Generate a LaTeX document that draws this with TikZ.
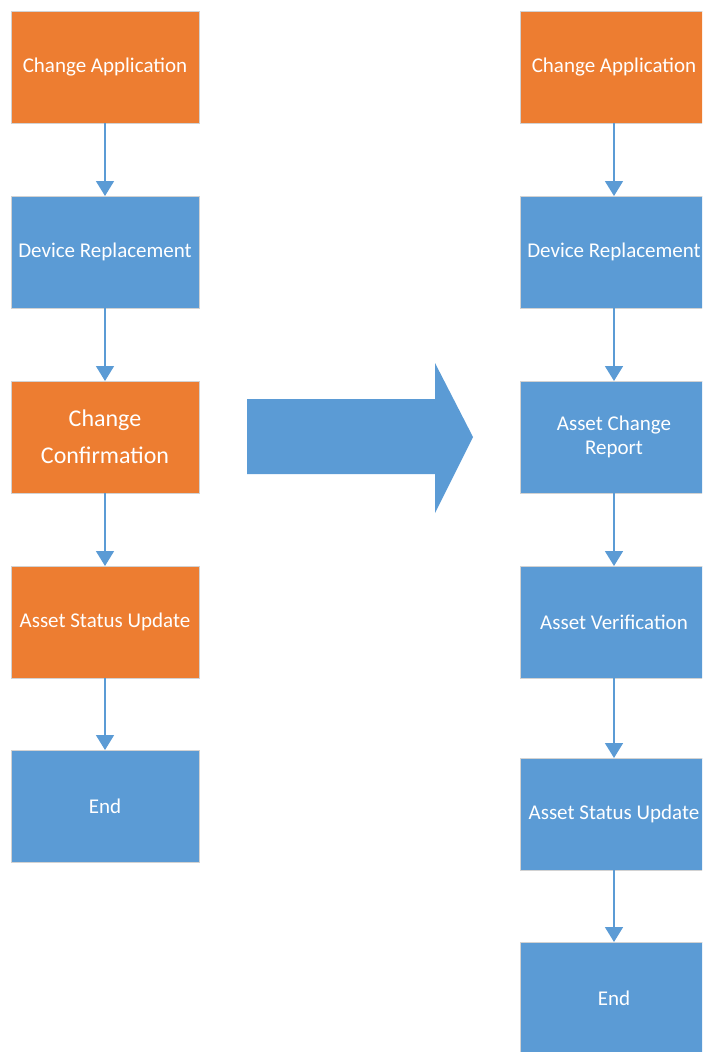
\documentclass[tikz,border=0pt]{standalone}
\usepackage{fontspec}
\setmainfont{Carlito}
\usetikzlibrary{arrows.meta,positioning}
\definecolor{boxorange}{HTML}{ED7D31}
\definecolor{boxblue}{HTML}{5B9BD5}

\begin{document}
\begin{tikzpicture}[x=1pt, y=1pt, node distance=73pt,
        box/.style={draw=gray!35, line width=0.8pt, minimum width=188pt, minimum height=112pt,
                text=white, align=center, inner sep=0pt, outer sep=0pt, font=\fontsize{21}{24}\selectfont},
        orangebox/.style={box, fill=boxorange},
        bluebox/.style={box, fill=boxblue},
        flow/.style={draw=boxblue, line width=1.6pt, -{Triangle[width=18pt,length=15pt]}}]
        \clip (0,0) rectangle (702,-1052);

        % old process
        \node[orangebox] (oldapp) at (105,-67) {Change Application};
        \node[bluebox, below=of oldapp] (oldrep) {Device Replacement};
        \node[orangebox, below=of oldrep, font=\fontsize{24}{37}\selectfont] (oldconf) {Change\\Confirmation};
        \node[orangebox, below=of oldconf] (oldstat) {Asset Status Update};
        \node[bluebox, below=72pt of oldstat] (oldend) {End};

        \draw[flow] (oldapp) -- (oldrep);
        \draw[flow] (oldrep) -- (oldconf);
        \draw[flow] (oldconf) -- (oldstat);
        \draw[flow] (oldstat) -- (oldend);

        % big arrow
        \fill[boxblue] (247,-399) -- (435,-399) -- (435,-363) -- (473,-437)
                -- (435,-513) -- (435,-474) -- (247,-474) -- cycle;

        % new process
        \node[orangebox] (newapp) at (614,-67) {Change Application};
        \node[bluebox, below=of newapp] (newrep) {Device Replacement};
        \node[bluebox, below=of newrep] (newrepo) {Asset Change\\Report};
        \node[bluebox, below=of newrepo] (newver) {Asset Verification};
        \node[bluebox, below=80pt of newver] (newstat) {Asset Status Update};
        \node[bluebox, below=72pt of newstat] (newend) {End};

        \draw[flow] (newapp) -- (newrep);
        \draw[flow] (newrep) -- (newrepo);
        \draw[flow] (newrepo) -- (newver);
        \draw[flow] (newver) -- (newstat);
        \draw[flow] (newstat) -- (newend);
\end{tikzpicture}
\end{document}
